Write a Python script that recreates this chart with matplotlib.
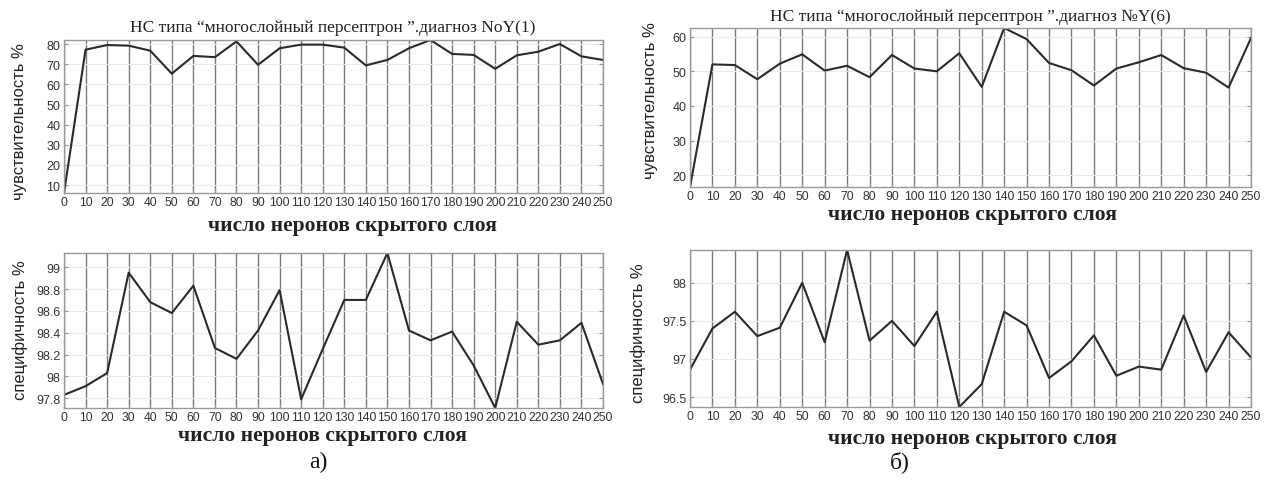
import matplotlib.pyplot as plt

W, H = 1266, 481

neurons = list(range(0, 251, 10))

# диагноз NoY(1)
sens_y1 = [6.1, 77.2, 79.5, 79.2, 76.7, 65.3, 74.1, 73.5, 81.3, 69.7, 77.9, 79.7, 79.7,
           78.2, 69.4, 72.1, 77.9, 82.0, 75.1, 74.6, 67.7, 74.4, 76.2, 80.0, 73.9, 72.1]
spec_y1 = [97.83, 97.91, 98.03, 98.95, 98.68, 98.58, 98.83, 98.26, 98.16, 98.42, 98.79,
           97.79, 98.25, 98.70, 98.70, 99.13, 98.42, 98.33, 98.41, 98.10, 97.71, 98.50,
           98.29, 98.33, 98.49, 97.93]

# диагноз №Y(6)
sens_y6 = [16.6, 52.0, 51.8, 47.7, 52.2, 54.9, 50.2, 51.6, 48.3, 54.7, 50.8, 50.0, 55.2,
           45.5, 62.5, 59.3, 52.4, 50.3, 45.9, 50.8, 52.6, 54.7, 50.9, 49.6, 45.3, 59.6]
spec_y6 = [96.86, 97.40, 97.62, 97.30, 97.41, 98.00, 97.22, 98.43, 97.24, 97.50, 97.17,
           97.62, 96.37, 96.67, 97.62, 97.44, 96.75, 96.97, 97.31, 96.78, 96.90, 96.86,
           97.57, 96.83, 97.35, 97.02]

yticks_sens_y1 = [10, 20, 30, 40, 50, 60, 70, 80]
yticks_spec_y1 = [97.8, 98, 98.2, 98.4, 98.6, 98.8, 99]
yticks_sens_y6 = [20, 30, 40, 50, 60]
yticks_spec_y6 = [96.5, 97, 97.5, 98]

titles = ["НС типа “многослойный персептрон ”.диагноз NoY(1)",
          "НС типа “многослойный персептрон ”.диагноз №Y(6)"]
xlabel = "число неронов скрытого слоя"
ylabel_sens = "чувствительность %"
ylabel_spec = "специфичность %"

SANS = "Liberation Sans"
SERIF = "Liberation Serif"

fig = plt.figure(figsize=(W / 100, H / 100), dpi=100)


def px_axes(x0, y0, x1, y1):
    # box in pixels (from top left corner) -> figure axes
    return fig.add_axes([x0 / W, 1 - y1 / H, (x1 - x0) / W, (y1 - y0) / H])


def fig_text(x, y, s, **kw):
    fig.text(x / W, 1 - y / H, s, ha="center", va="center", **kw)


def draw(ax, values, yticks):
    ax.plot(neurons, values, color="#2a2a2a", lw=1.5)
    ax.set_xlim(0, 250)
    ax.set_ylim(min(values), max(values))
    ax.set_xticks(neurons)
    ax.set_xticklabels([str(n) for n in neurons], fontfamily=SANS, fontsize=8.8, color="#333333")
    ax.set_yticks(yticks)
    ax.set_yticklabels([f"{t:g}" for t in yticks], fontfamily=SANS, fontsize=9, color="#333333")
    ax.tick_params(direction="in", length=3, width=0.8, color="#999999",
                   right=True, top=False, pad=2.5)
    ax.xaxis.grid(True, color="#7a7a7a", lw=1.0)
    ax.yaxis.grid(True, color="#ebebeb", lw=0.8)
    for s in ax.spines.values():
        s.set_color("#999999")
        s.set_linewidth(1.0)


# а) left column
ax1 = px_axes(64, 41, 603, 194)
draw(ax1, sens_y1, yticks_sens_y1)
ax2 = px_axes(64, 254, 603, 409)
draw(ax2, spec_y1, yticks_spec_y1)

# б) right column
ax3 = px_axes(690, 29, 1251, 188)
draw(ax3, sens_y6, yticks_sens_y6)
ax4 = px_axes(690, 251, 1251, 408)
draw(ax4, spec_y6, yticks_spec_y6)

fig_text(333, 28, titles[0], fontfamily=SERIF, fontsize=12.5, color="#222222")
fig_text(970, 17, titles[1], fontfamily=SERIF, fontsize=12.5, color="#222222")

lab = dict(fontfamily=SERIF, fontsize=15.5, fontweight="bold", color="#222222")
fig_text(352, 226, xlabel, **lab)
fig_text(322, 436, xlabel, **lab)
fig_text(972, 215, xlabel, **lab)
fig_text(972, 439, xlabel, **lab)

ylab = dict(fontfamily=SANS, fontsize=12, rotation=90, color="#222222")
fig_text(20, 122, ylabel_sens, **ylab)
fig_text(20, 330, ylabel_spec, **ylab)
fig_text(650, 101, ylabel_sens, **ylab)
fig_text(638, 333, ylabel_spec, **ylab)

fig_text(318, 462, "а)", fontfamily=SERIF, fontsize=17, color="#111111")
fig_text(900, 462, "б)", fontfamily=SERIF, fontsize=17, color="#111111")

fig.savefig("out.png", dpi=100, facecolor="white")
